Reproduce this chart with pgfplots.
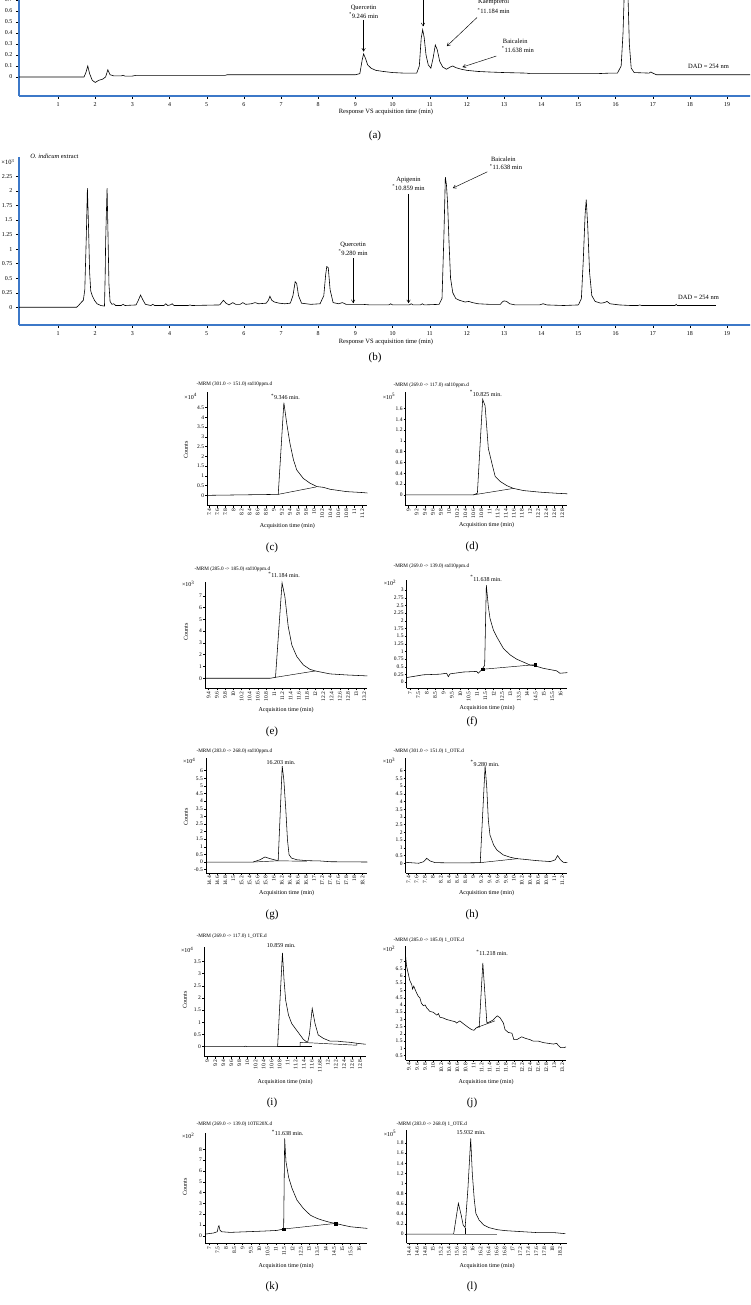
\documentclass[border=0pt]{standalone}
\usepackage{fontspec}
\setmainfont{Liberation Serif}
\usepackage{pgfplots}
\pgfplotsset{compat=1.18}
\usetikzlibrary{arrows.meta}
\definecolor{refblue}{RGB}{60,120,200}

\newcommand{\ann}{\fontsize{6}{7}\selectfont}
\newcommand{\annbig}{\fontsize{6.5}{7.5}\selectfont}
\newcommand{\ttl}{\fontsize{5.2}{6}\selectfont}
\newcommand{\capfont}{\fontsize{11}{12}\selectfont}
\tikzset{
  note/.style={font=\annbig, align=center},
  arr/.style={-{Straight Barb[length=3pt,width=3.5pt]}, line width=0.45pt},
}
\pgfplotsset{
  mrm/.style={
    scale only axis, anchor=south west,
    axis x line*=bottom, axis y line*=left,
    axis line style={black, line width=0.5pt},
    tick align=outside, major tick length=2pt,
    tick style={black, line width=0.4pt},
    tick label style={font=\fontsize{5.5}{6}\selectfont, inner sep=1pt},
    x tick label style={rotate=90, anchor=east},
    /pgf/number format/assume math mode=true,
    scaled ticks=false, clip=false,
  },
  hplc/.style={
    scale only axis, anchor=south west,
    axis x line*=bottom, axis y line*=left,
    axis line style={refblue, line width=1.3pt},
    xmin=-0.05, xmax=19.67, xtick={1,2,...,19},
    tick align=outside, major tick length=3pt,
    tick style={black, line width=0.4pt},
    tick label style={font=\fontsize{6}{7}\selectfont},
    /pgf/number format/assume math mode=true,
    scaled ticks=false, clip=false,
  },
  trace/.style={black, line width=0.55pt},
  base/.style={black, line width=0.45pt},
}

\begin{document}
\begin{tikzpicture}[x=1pt,y=1pt]
\useasboundingbox (0,0) rectangle (750,1305);
\clip (0,0) rectangle (750,1305);

% ---------------- (a) standards, DAD 254 nm
\begin{axis}[hplc, at={(19pt,1209pt)}, width=733pt, height=129pt,
  ymin=-0.173, ymax=1.0, ytick={0,0.1,0.2,0.3,0.4,0.5,0.6,0.7}]
\addplot[black, line width=0.6pt] coordinates {
 (-0.05,0) (1.70,0) (1.75,0.04) (1.80,0.10) (1.85,0.03) (1.92,-0.03) (2.0,-0.05)
 (2.1,-0.03) (2.2,-0.02) (2.28,0.0) (2.34,0.065) (2.40,0.02) (2.5,0.01) (2.7,0.01)
 (2.75,0.015) (2.8,0.008) (3.0,0.008) (3.1,0.015) (5.5,0.015) (5.55,0.02) (9.0,0.02)
 (9.12,0.03) (9.18,0.15) (9.22,0.21) (9.27,0.17) (9.33,0.11) (9.42,0.08) (9.55,0.06)
 (9.75,0.05) (10.0,0.04) (10.3,0.035) (10.65,0.035) (10.72,0.1) (10.77,0.35) (10.81,0.43)
 (10.85,0.36) (10.9,0.2) (10.96,0.11) (11.03,0.08) (11.09,0.17) (11.15,0.29) (11.2,0.25)
 (11.27,0.14) (11.35,0.09) (11.45,0.07) (11.55,0.09) (11.62,0.10) (11.7,0.085) (11.85,0.07)
 (12.0,0.06) (12.3,0.05) (12.6,0.045) (13.0,0.04) (13.6,0.035) (13.7,0.03) (14.5,0.03)
 (15.5,0.03) (15.85,0.035) (16.05,0.035) (16.15,0.1) (16.2,0.4) (16.25,0.95) (16.28,1.2)
 (16.32,0.9) (16.37,0.3) (16.42,0.08) (16.5,0.04) (16.9,0.035) (16.95,0.045) (17.0,0.035)
 (17.1,0.02) (19.7,0.02)};
\node[note] at (axis cs:9.22,0.63) {Quercetin};
\node[note] at (axis cs:9.22,0.56) {\textsuperscript{*}9.246 min};
\draw[arr] (axis cs:9.22,0.52) -- (axis cs:9.22,0.23);
\draw[arr] (axis cs:10.82,0.80) -- (axis cs:10.82,0.46);
\node[note] at (axis cs:12.72,0.68) {Kaempferol};
\node[note] at (axis cs:12.72,0.60) {\textsuperscript{*}11.184 min};
\draw[arr] (axis cs:12.27,0.54) -- (axis cs:11.46,0.28);
\node[note] at (axis cs:13.30,0.32) {Baicalein};
\node[note] at (axis cs:13.37,0.25) {\textsuperscript{*}11.638 min};
\draw[arr] (axis cs:12.79,0.19) -- (axis cs:11.88,0.09);
\node[note] at (axis cs:18.5,0.10) {DAD = 254 nm};
\end{axis}
\node[font=\annbig] at (386,1193) {Response VS acquisition time (min)};
\node[font=\capfont] at (375,1169) {(a)};

% ---------------- (b) O. indicum extract, DAD 254 nm
\begin{axis}[hplc, at={(19pt,980pt)}, width=733pt, height=167.7pt,
  ymin=-0.305, ymax=2.58, ytick={0,0.25,0.5,0.75,1,1.25,1.5,1.75,2,2.25}]
\addplot[black, line width=0.6pt] coordinates {
 (-0.05,0) (1.5,0) (1.55,0.03) (1.62,0.08) (1.68,0.12) (1.72,0.3) (1.76,1.2) (1.79,2.05)
 (1.82,1.4) (1.85,0.6) (1.88,0.28) (1.92,0.2) (1.98,0.12) (2.05,0.06) (2.15,0.03) (2.25,0.02)
 (2.27,0.6) (2.28,1.1) (2.3,1.6) (2.32,2.05) (2.34,1.4) (2.37,0.4) (2.4,0.1) (2.45,0.05)
 (2.5,0.06) (2.55,0.03) (2.7,0.03) (2.75,0.05) (2.8,0.03) (3.1,0.04) (3.16,0.12) (3.22,0.21)
 (3.28,0.13) (3.35,0.05) (3.5,0.03) (3.55,0.05) (3.6,0.03) (3.85,0.03) (3.9,0.06) (3.95,0.03)
 (4.02,0.04) (4.07,0.06) (4.12,0.03) (4.5,0.03) (4.55,0.04) (4.6,0.03) (5.35,0.04) (5.45,0.12)
 (5.52,0.07) (5.6,0.04) (5.7,0.08) (5.78,0.05) (5.9,0.05) (5.97,0.08) (6.05,0.05) (6.2,0.06)
 (6.3,0.08) (6.4,0.06) (6.6,0.07) (6.66,0.12) (6.7,0.19) (6.75,0.12) (6.82,0.09) (6.95,0.07)
 (7.1,0.06) (7.25,0.07) (7.32,0.2) (7.38,0.44) (7.42,0.41) (7.47,0.2) (7.55,0.07) (7.8,0.05)
 (8.05,0.06) (8.15,0.2) (8.2,0.56) (8.23,0.70) (8.27,0.68) (8.32,0.3) (8.4,0.08) (8.55,0.06)
 (8.65,0.08) (8.75,0.05) (9.0,0.05) (9.2,0.05) (9.4,0.04) (9.9,0.04) (9.95,0.06) (10.0,0.04)
 (10.45,0.04) (10.5,0.06) (10.55,0.04) (10.75,0.04) (10.8,0.06) (10.85,0.04) (11.25,0.05)
 (11.33,0.15) (11.38,1.2) (11.42,2.24) (11.45,2.1) (11.48,1.8) (11.52,1.1) (11.56,0.5)
 (11.62,0.25) (11.7,0.15) (11.8,0.12) (11.95,0.09) (12.05,0.1) (12.15,0.08) (12.3,0.06)
 (12.6,0.05) (12.9,0.05) (12.95,0.09) (13.0,0.11) (13.07,0.1) (13.15,0.06) (13.3,0.04)
 (13.95,0.04) (14.05,0.06) (14.15,0.04) (14.6,0.03) (15.0,0.04) (15.08,0.15) (15.13,0.8)
 (15.18,1.6) (15.21,1.85) (15.25,1.4) (15.3,0.6) (15.36,0.2) (15.45,0.1) (15.6,0.07)
 (15.7,0.08) (15.77,0.1) (15.85,0.06) (16.1,0.04) (16.4,0.03) (16.6,0.03) (16.65,0.04)
 (16.7,0.03) (17.6,0.03) (17.63,0.05) (17.66,0.03) (18.7,0.03)};
\node[note, anchor=west, inner sep=0.5pt] at (axis cs:-0.54,2.5) {×10\textsuperscript{3}};
\node[note, anchor=west] at (axis cs:0.16,2.6) {\textit{O. indicum} extract};
\node[note] at (axis cs:8.94,1.07) {Quercetin};
\node[note] at (axis cs:8.94,0.94) {\textsuperscript{*}9.280 min};
\draw[arr] (axis cs:8.94,0.84) -- (axis cs:8.94,0.07);
\node[note] at (axis cs:10.43,2.19) {Apigenin};
\node[note] at (axis cs:10.43,2.06) {\textsuperscript{*}10.859 min};
\draw[arr] (axis cs:10.43,1.95) -- (axis cs:10.43,0.07);
\node[note] at (axis cs:12.98,2.54) {Baicalein};
\node[note] at (axis cs:13.05,2.41) {\textsuperscript{*}11.638 min};
\draw[arr] (axis cs:12.55,2.33) -- (axis cs:11.62,2.05);
\node[note] at (axis cs:18.23,0.17) {DAD = 254 nm};
\end{axis}
\node[font=\annbig] at (386,963) {Response VS acquisition time (min)};
\node[font=\capfont] at (375,947) {(b)};

% ---------------- (c)
\begin{axis}[mrm, at={(207.3pt,799.3pt)}, width=160pt, height=113.4pt,
  xmin=7.35, xmax=11.32, ymin=-0.53, ymax=5.28,
  xtick={7.4,7.6,7.8,8,8.2,8.4,8.6,8.8,9,9.2,9.4,9.6,9.8,10,10.2,10.4,10.6,10.8,11,11.2},
  ytick={0,0.5,1,1.5,2,2.5,3,3.5,4,4.5}]
\addplot[trace] coordinates {(7.35,0) (9.11,0.05) (9.25,4.75) (9.32,3.7) (9.40,2.67)
 (9.49,1.8) (9.57,1.3) (9.73,0.87) (9.90,0.62) (10.07,0.45) (10.23,0.41) (10.40,0.31)
 (10.81,0.19) (11.22,0.14) (11.32,0.12)};
\addplot[base] coordinates {(9.11,0.05) (10.05,0.43)};
\node[font=\ann] at (axis cs:9.29,5.05) {\textsuperscript{*}9.346 min.};
\node[font=\ann, anchor=east, xshift=-7pt, yshift=-4pt] at (rel axis cs:0,1) {×10\textsuperscript{4}};
\end{axis}

% ---------------- (d)
\begin{axis}[mrm, at={(405.7pt,799.3pt)}, width=161.6pt, height=113.4pt,
  xmin=8.93, xmax=12.92, ymin=-0.2, ymax=1.9,
  xtick={9,9.2,9.4,9.6,9.8,10,10.2,10.4,10.6,10.8,11,11.2,11.4,11.6,11.8,12,12.2,12.4,12.6,12.8},
  ytick={0,0.2,0.4,0.6,0.8,1,1.2,1.4,1.6}]
\addplot[trace] coordinates {(8.93,0) (10.60,0) (10.70,0.03) (10.83,1.77) (10.89,1.65)
 (10.93,1.26) (10.97,0.86) (11.06,0.58) (11.14,0.34) (11.26,0.25) (11.43,0.17) (11.59,0.12)
 (11.84,0.08) (12.25,0.05) (12.66,0.03) (12.92,0.02)};
\addplot[base] coordinates {(10.60,0) (11.59,0.12)};
\node[font=\ann] at (axis cs:10.91,1.88) {\textsuperscript{*}10.825 min.};
\node[font=\ann, anchor=east, xshift=-7pt, yshift=-4pt] at (rel axis cs:0,1) {×10\textsuperscript{5}};
\end{axis}

% ---------------- (e)
\begin{axis}[mrm, at={(205pt,616.7pt)}, width=162.3pt, height=106.6pt,
  xmin=9.31, xmax=13.27, ymin=-0.85, ymax=8.19,
  xtick={9.4,9.6,9.8,10,10.2,10.4,10.6,10.8,11,11.2,11.4,11.6,11.8,12,12.2,12.4,12.6,12.8,13,13.2},
  ytick={0,1,2,3,4,5,6,7}]
\addplot[trace] coordinates {(9.31,0) (10.90,0) (11.03,0.08) (11.19,8.1) (11.26,6.9)
 (11.34,4.4) (11.43,2.8) (11.55,1.84) (11.71,1.13) (11.87,0.76) (12.0,0.62) (12.36,0.37)
 (12.77,0.28) (13.27,0.2)};
\addplot[base] coordinates {(11.03,0.08) (12.0,0.62)};
\node[font=\ann] at (axis cs:11.24,8.75) {\textsuperscript{*}11.184 min.};
\node[font=\ann, anchor=east, xshift=-7pt, yshift=-2pt] at (rel axis cs:0,1) {×10\textsuperscript{3}};
\end{axis}

% ---------------- (f)
\begin{axis}[mrm, at={(406.7pt,616.7pt)}, width=160.6pt, height=108.3pt,
  xmin=6.8, xmax=16.4, ymin=-0.2, ymax=3.33,
  xtick={7,7.5,8,8.5,9,9.5,10,10.5,11,11.5,12,12.5,13,13.5,14,14.5,15,15.5,16},
  ytick={0,0.25,0.5,0.75,1,1.25,1.5,1.75,2,2.25,2.5,2.75,3}]
\addplot[trace] coordinates {(6.8,0.15) (7.8,0.24) (8.79,0.26) (9.19,0.29) (9.29,0.18)
 (9.39,0.27) (10.19,0.33) (10.98,0.35) (11.08,0.29) (11.28,0.40) (11.34,0.45) (11.46,0.55)
 (11.56,3.16) (11.68,2.46) (11.78,2.08) (11.98,1.7) (12.18,1.48) (12.58,1.1) (12.98,0.89)
 (13.37,0.75) (14.17,0.56) (14.47,0.53) (14.97,0.45) (15.76,0.37) (15.96,0.29) (16.4,0.31)};
\addplot[base] coordinates {(11.34,0.42) (14.47,0.57)};
\addplot[only marks, mark=square*, mark size=1.3pt] coordinates {(11.34,0.42) (14.47,0.57)};
\node[font=\ann] at (axis cs:11.55,3.38) {\textsuperscript{*}11.638 min.};
\node[font=\ann, anchor=east, xshift=-7pt, yshift=-3pt] at (rel axis cs:0,1) {×10\textsuperscript{2}};
\end{axis}

% ---------------- (g)
\begin{axis}[mrm, at={(206pt,432pt)}, width=161.3pt, height=115pt,
  xmin=14.32, xmax=18.32, ymin=-0.72, ymax=6.83,
  xtick={14.4,14.6,14.8,15,15.2,15.4,15.6,15.8,16,16.2,16.4,16.6,16.8,17,17.2,17.4,17.6,17.8,18,18.2},
  ytick={-0.5,0,0.5,1,1.5,2,2.5,3,3.5,4,4.5,5,5.5,6}]
\addplot[trace] coordinates {(14.32,0) (15.49,0) (15.66,0.15) (15.78,0.33) (15.91,0.22)
 (16.07,0.11) (16.11,0.1) (16.21,6.3) (16.25,5.4) (16.30,3.4) (16.34,1.46) (16.38,0.48)
 (16.44,0.26) (16.57,0.15) (16.82,0.09) (17.15,0.07) (17.40,0.02) (18.32,0)};
\addplot[base] coordinates {(15.49,0) (16.11,0.08) (16.82,0.05)};
\node[font=\ann] at (axis cs:16.18,6.5) {16.203 min.};
\node[font=\ann, anchor=east, xshift=-7pt, yshift=-3pt] at (rel axis cs:0,1) {×10\textsuperscript{4}};
\end{axis}

% ---------------- (h)
\begin{axis}[mrm, at={(405.7pt,432pt)}, width=161.6pt, height=115pt,
  xmin=7.33, xmax=11.32, ymin=-0.63, ymax=6.82,
  xtick={7.4,7.6,7.8,8,8.2,8.4,8.6,8.8,9,9.2,9.4,9.6,9.8,10,10.2,10.4,10.6,10.8,11,11.2},
  ytick={0,0.5,1,1.5,2,2.5,3,3.5,4,4.5,5,5.5,6}]
\addplot[trace] coordinates {(7.33,0.06) (7.65,0.0) (7.77,0.1) (7.85,0.32) (7.93,0.15)
 (8.06,0.04) (8.59,0.02) (9.17,0.04) (9.29,6.3) (9.33,4.97) (9.37,2.81) (9.41,1.84)
 (9.50,1.19) (9.58,0.86) (9.74,0.54) (9.91,0.39) (10.07,0.3) (10.24,0.26) (10.57,0.17)
 (10.90,0.11) (11.02,0.22) (11.08,0.5) (11.14,0.26) (11.22,0.06) (11.32,0.04)};
\addplot[base] coordinates {(9.17,0.04) (10.1,0.3)};
\node[font=\ann] at (axis cs:9.29,6.48) {\textsuperscript{*}9.280 min.};
\node[font=\ann, anchor=east, xshift=-7pt, yshift=-3pt] at (rel axis cs:0,1) {×10\textsuperscript{3}};
\end{axis}

% ---------------- (i)
\begin{axis}[mrm, at={(204pt,248.3pt)}, width=161.7pt, height=110pt,
  xmin=8.92, xmax=12.94, ymin=-0.41, ymax=4.1,
  xtick={9,9.2,9.4,9.6,9.8,10,10.2,10.4,10.6,10.8,11,11.2,11.4,11.6,11.8,12,12.2,12.4,12.6,12.8},
  xticklabels={9,9.2,9.4,9.6,9.8,10,10.2,10.4,10.6,10.8,11,11.2,11.4,11.6,11.68,12,12.2,12.4,12.6,12.8},
  ytick={0,0.5,1,1.5,2,2.5,3,3.5}]
\addplot[trace] coordinates {(8.92,0) (9.9,0) (9.95,0.02) (10.0,0) (10.75,0) (10.87,3.85)
 (10.91,2.73) (10.95,1.91) (11.02,1.3) (11.10,0.95) (11.22,0.68) (11.31,0.48) (11.39,0.3)
 (11.47,0.2) (11.50,0.2) (11.54,0.5) (11.61,1.57) (11.68,0.95) (11.76,0.48) (11.89,0.34)
 (12.05,0.23) (12.22,0.23) (12.39,0.2) (12.55,0.18) (12.72,0.14) (12.94,0.1)};
\addplot[base] coordinates {(10.75,0) (11.6,0)};
\addplot[base] coordinates {(11.31,0) (11.31,0.18) (12.72,0.06) (12.72,0.14)};
\node[font=\ann] at (axis cs:10.84,4.13) {10.859 min.};
\node[font=\ann, anchor=east, xshift=-7pt, yshift=-3pt] at (rel axis cs:0,1) {×10\textsuperscript{4}};
\end{axis}

% ---------------- (j)
\begin{axis}[mrm, at={(405.7pt,245pt)}, width=160.3pt, height=114pt,
  xmin=9.32, xmax=13.29, ymin=0.2, ymax=8.07,
  xtick={9.4,9.6,9.8,10,10.2,10.4,10.6,10.8,11,11.2,11.4,11.6,11.8,12,12.2,12.4,12.6,12.8,13,13.2},
  ytick={0.5,1,1.5,2,2.5,3,3.5,4,4.5,5,5.5,6,6.5,7}]
\addplot[trace] coordinates {(9.32,7.3) (9.34,6.7) (9.38,6.2) (9.42,5.7) (9.47,5.4)
 (9.49,5.1) (9.52,5.3) (9.57,4.95) (9.63,4.6) (9.67,4.5) (9.71,4.1) (9.76,3.95) (9.80,4.0)
 (9.84,3.8) (9.92,3.55) (10.0,3.5) (10.09,3.3) (10.13,3.4) (10.17,3.15) (10.25,3.1)
 (10.33,3.0) (10.46,2.9) (10.54,2.85) (10.58,2.75) (10.66,2.9) (10.75,2.7) (10.87,2.45)
 (10.95,2.3) (11.01,2.25) (11.06,2.4) (11.12,2.5) (11.14,2.45) (11.23,6.9) (11.33,2.75)
 (11.41,2.85) (11.49,2.97) (11.53,3.1) (11.59,3.25) (11.66,3.1) (11.74,2.75) (11.78,2.3)
 (11.86,2.1) (11.95,2.05) (12.0,1.6) (12.07,1.6) (12.19,1.8) (12.28,1.7) (12.40,1.6)
 (12.48,1.5) (12.61,1.5) (12.73,1.4) (12.85,1.35) (12.98,1.3) (13.06,1.35) (13.10,1.2)
 (13.16,1.05) (13.23,1.05) (13.29,1.1)};
\addplot[base] coordinates {(11.09,2.45) (11.53,2.9)};
\node[font=\ann] at (axis cs:11.46,7.6) {\textsuperscript{*}11.218 min.};
\node[font=\ann, anchor=east, xshift=-7pt, yshift=-3pt] at (rel axis cs:0,1) {×10\textsuperscript{2}};
\end{axis}

% ---------------- (k)
\begin{axis}[mrm, at={(205pt,61.7pt)}, width=162.3pt, height=110.2pt,
  xmin=6.74, xmax=16.5, ymin=-0.7, ymax=9.5,
  xtick={7,7.5,8,8.5,9,9.5,10,10.5,11,11.5,12,12.5,13,13.5,14,14.5,15,15.5,16},
  ytick={0,1,2,3,4,5,6,7,8}]
\addplot[trace] coordinates {(6.74,0.15) (7.24,0.25) (7.48,0.37) (7.54,0.83) (7.58,0.93)
 (7.64,0.52) (7.74,0.37) (8.25,0.31) (9.25,0.37) (10.26,0.43) (11.06,0.49) (11.37,0.59)
 (11.47,0.62) (11.53,9.0) (11.61,6.85) (11.77,5.4) (11.97,4.4) (12.27,3.3) (12.67,2.5)
 (13.08,1.9) (13.48,1.6) (13.88,1.4) (14.28,1.23) (14.59,1.14) (15.09,0.96) (15.49,0.83)
 (16.09,0.74) (16.5,0.68)};
\addplot[base] coordinates {(11.47,0.62) (14.59,1.14)};
\addplot[only marks, mark=square*, mark size=1.3pt] coordinates {(11.47,0.62) (14.59,1.14)};
\node[font=\ann] at (axis cs:11.71,9.54) {\textsuperscript{*}11.638 min.};
\node[font=\ann, anchor=east, xshift=-7pt, yshift=-3pt] at (rel axis cs:0,1) {×10\textsuperscript{2}};
\end{axis}

% ---------------- (l)
\begin{axis}[mrm, at={(406.7pt,61.7pt)}, width=160.6pt, height=112.9pt,
  xmin=14.34, xmax=18.38, ymin=-0.18, ymax=2.05,
  xtick={14.4,14.6,14.8,15,15.2,15.4,15.6,15.8,16,16.2,16.4,16.6,16.8,17,17.2,17.4,17.6,17.8,18,18.2},
  ytick={0,0.2,0.4,0.6,0.8,1,1.2,1.4,1.6,1.8}]
\addplot[trace] coordinates {(14.34,0) (15.52,0) (15.64,0.61) (15.71,0.38) (15.76,0.18)
 (15.81,0.13) (15.88,0.9) (15.95,1.89) (15.99,1.2) (16.04,0.68) (16.08,0.41) (16.16,0.28)
 (16.28,0.18) (16.41,0.13) (16.61,0.09) (16.82,0.07) (17.23,0.05) (17.65,0.03) (18.06,0.03)
 (18.33,0.01)};
\addplot[gray, line width=0.45pt] coordinates {(15.52,0) (16.61,0)};
\addplot[base] coordinates {(15.81,0) (15.81,0.13)};
\node[font=\ann] at (axis cs:15.96,2.0) {15.932 min.};
\node[font=\ann, anchor=east, xshift=-7pt, yshift=-3pt] at (rel axis cs:0,1) {×10\textsuperscript{5}};
\end{axis}

% ---------------- titles, axis labels, captions of the MRM panels
\begin{scope}[every node/.style={font=\ttl}]
\node[anchor=west] at (193,920.7) {-MRM (301.0 -> 151.0) std10ppm.d};
\node[anchor=west] at (390,920.0) {-MRM (269.0 -> 117.0) std10ppm.d};
\node[anchor=west] at (191,736.0) {-MRM (285.0 -> 185.0) std10ppm.d};
\node[anchor=west] at (390,738.3) {-MRM (269.0 -> 139.0) std10ppm.d};
\node[anchor=west] at (193,553.3) {-MRM (283.0 -> 268.0) std10ppm.d};
\node[anchor=west] at (390,553.3) {-MRM (301.0 -> 151.0) 1\_OTE.d};
\node[anchor=west] at (193,368.3) {-MRM (269.0 -> 117.0) 1\_OTE.d};
\node[anchor=west] at (390,365.0) {-MRM (285.0 -> 185.0) 1\_OTE.d};
\node[anchor=west] at (193,180.7) {-MRM (269.0 -> 139.0) 10TE20X.d};
\node[anchor=west] at (393,180.7) {-MRM (283.0 -> 268.0) 1\_OTE.d};
\end{scope}

\begin{scope}[every node/.style={font=\ann}]
\node at (287.3,779.3) {Acquisition time (min)};
\node at (486.5,780.0) {Acquisition time (min)};
\node at (286.0,595.0) {Acquisition time (min)};
\node at (487.0,596.7) {Acquisition time (min)};
\node at (286.7,411.7) {Acquisition time (min)};
\node at (486.5,411.7) {Acquisition time (min)};
\node at (285.0,223.3) {Acquisition time (min)};
\node at (486.0,223.3) {Acquisition time (min)};
\node at (286.0,39.0) {Acquisition time (min)};
\node at (487.0,39.0) {Acquisition time (min)};

\node[rotate=90] at (186,855.0) {Counts};
\node[rotate=90] at (186,673.3) {Counts};
\node[rotate=90] at (186,488.3) {Counts};
\node[rotate=90] at (185,305.0) {Counts};
\node[rotate=90] at (185,118.3) {Counts};
\end{scope}

\node[font=\capfont] at (272,757.0) {(c)};
\node[font=\capfont] at (472,758.0) {(d)};
\node[font=\capfont] at (272,573.3) {(e)};
\node[font=\capfont] at (472,583.3) {(f)};
\node[font=\capfont] at (272,390.0) {(g)};
\node[font=\capfont] at (472,390.0) {(h)};
\node[font=\capfont] at (272,202.3) {(i)};
\node[font=\capfont] at (472,202.3) {(j)};
\node[font=\capfont] at (272,18.3) {(k)};
\node[font=\capfont] at (472,18.3) {(l)};
\end{tikzpicture}
\end{document}
